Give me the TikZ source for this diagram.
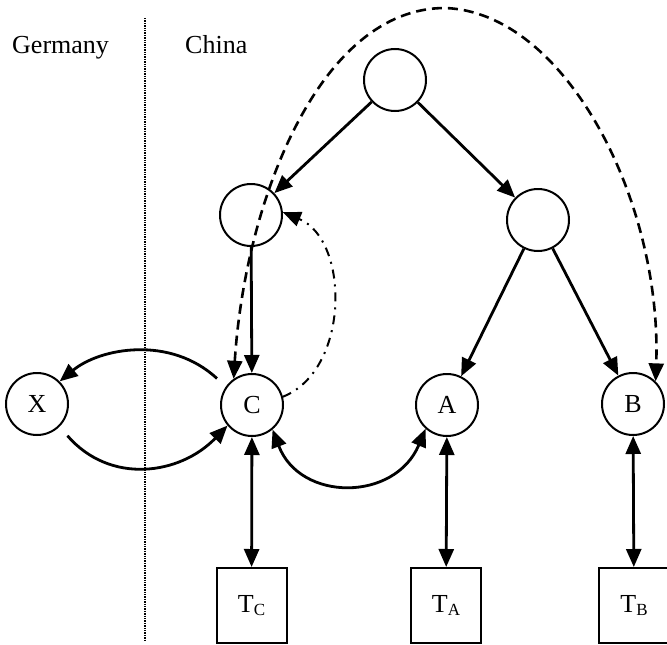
\documentclass[tikz,border=0pt]{standalone}
\usepackage{fontspec}
\setmainfont{Liberation Serif}
\usetikzlibrary{arrows.meta}
\newcommand{\tsub}[1]{T\raisebox{-0.3ex}{\fontsize{17}{17}\selectfont #1}}
\begin{document}
\begin{tikzpicture}[x=1pt,y=-1pt,
  tip/.tip={Triangle[length=18pt,width=15pt]},
  circ/.style={circle,draw,line width=2pt,minimum size=62pt,inner sep=0pt,font=\fontsize{26}{26}\selectfont},
  tbox/.style={rectangle,draw,line width=2pt,minimum width=70pt,minimum height=75pt,inner sep=0pt,font=\fontsize{26}{26}\selectfont},
  arr/.style={line width=2.8pt,-tip},
  darr/.style={line width=2.8pt,tip-tip},
  lbl/.style={font=\fontsize{26}{26}\selectfont,inner sep=0pt}]
\useasboundingbox (0,0) rectangle (667,645);
\node[lbl,anchor=base west] (ger) at (12,53) {Germany};
\node[lbl,anchor=base west] (chi) at (185,53) {China};
\coordinate (vt) at (145,18);
\coordinate (vb) at (145,640);
\draw[densely dotted,line width=1.4pt] (vt) -- (vb);
\node[circ] (r) at (395,80) {};
\node[circ] (lm) at (251,215) {};
\node[circ] (rm) at (538,220) {};
\node[circ] (x) at (37,404) {X};
\node[circ] (c) at (252,405) {C};
\node[circ] (a) at (447,405) {A};
\node[circ] (b) at (633,404) {B};
\node[tbox] (tc) at (251.5,605.5) {\tsub{C}};
\node[tbox] (ta) at (446,605.5) {\tsub{A}};
\node[tbox] (tb) at (634,605.5) {\tsub{B}};
\coordinate (top) at (445,8);
\draw[arr] (r) -- (lm);
\draw[arr] (r) -- (rm);
\draw[arr] (lm) -- (c);
\draw[arr] (rm) -- (a);
\draw[arr] (rm) -- (b);
\draw[darr] (c) -- (tc);
\draw[darr] (a) -- (ta);
\draw[darr] (b) -- (tb);
\draw[darr] (c.-50) .. controls (300,502) and (395,502) .. (a.-132);
\draw[arr,shorten <=12pt] (c.145) .. controls (170,335) and (100,348) .. (x.45);
\draw[arr,shorten <=12pt] (x.-45) .. controls (110,485) and (180,475) .. (c.-140);
\draw[line width=2pt,dash pattern=on 9pt off 6pt on 2pt off 6pt,-tip] (c.15) .. controls (350,370) and (350,240) .. (lm.5);
\draw[line width=2.6pt,dash pattern=on 10pt off 6pt,tip-tip] (c.125) .. controls (245,200) and (320,8) .. (top) .. controls (565,12) and (662,200) .. (b.45);
\end{tikzpicture}
\end{document}
